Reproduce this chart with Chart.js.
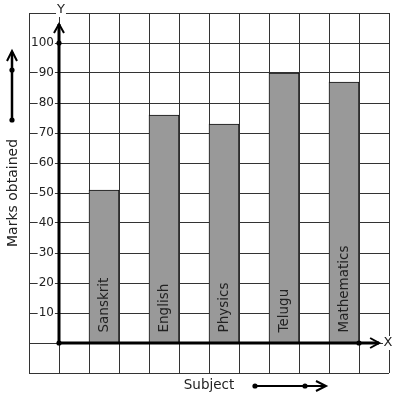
<!DOCTYPE html>
<html>
<head>
<meta charset="utf-8">
<script src="https://cdn.jsdelivr.net/npm/chart.js@4/dist/chart.umd.min.js"></script>
<style>
  html, body { margin: 0; padding: 0; background: #fff; }
  canvas { display: block; }
</style>
</head>
<body>
<canvas id="marks-chart" width="397" height="399"></canvas>
<script>
var subjects = ['Sanskrit', 'English', 'Physics', 'Telugu', 'Mathematics'];
var marks = [51, 76, 73, 90, 87];
var yTicks = [10, 20, 30, 40, 50, 60, 70, 80, 90, 100];

var FONT = "'DejaVu Sans', sans-serif";
var INK = '#222';

// bars sit in every second grid column, starting one column right of the Y axis
var points = subjects.map(function(s, i){
  return { x: 2 * i + 1.5, y: marks[i] };
});

function dot(ctx, x, y){
  ctx.beginPath();
  ctx.arc(x, y, 2.6, 0, Math.PI * 2);
  ctx.fill();
}

var decor = {
  id: 'decor',
  afterDraw: function(chart){
    var ctx = chart.ctx;
    var xs = chart.scales.x, ys = chart.scales.y;
    var x0 = xs.getPixelForValue(0), y0 = ys.getPixelForValue(0);
    ctx.save();
    ctx.strokeStyle = '#000';
    ctx.fillStyle = '#000';
    ctx.lineWidth = 3;
    ctx.lineCap = 'butt';

    // Y axis with arrow
    var yTip = ys.getPixelForValue(106.3);
    ctx.beginPath();
    ctx.moveTo(x0, y0); ctx.lineTo(x0, yTip);
    ctx.stroke();
    ctx.lineWidth = 2;
    ctx.beginPath();
    ctx.moveTo(x0 - 5, yTip + 9); ctx.lineTo(x0, yTip); ctx.lineTo(x0 + 5, yTip + 9);
    ctx.stroke();

    // X axis with arrow
    var xTip = xs.getPixelForValue(10.67);
    ctx.lineWidth = 3;
    ctx.beginPath();
    ctx.moveTo(x0, y0); ctx.lineTo(xTip, y0);
    ctx.stroke();
    ctx.lineWidth = 2;
    ctx.beginPath();
    ctx.moveTo(xTip - 9, y0 - 5); ctx.lineTo(xTip, y0); ctx.lineTo(xTip - 9, y0 + 5);
    ctx.stroke();

    dot(ctx, x0, ys.getPixelForValue(100));
    dot(ctx, x0, y0);
    dot(ctx, xs.getPixelForValue(10), y0);

    // axis letters on white
    ctx.font = '13px ' + FONT;
    ctx.textAlign = 'center';
    ctx.textBaseline = 'middle';
    var yl = ctx.measureText('Y').width;
    ctx.fillStyle = '#fff';
    ctx.fillRect(x0 + 2 - yl / 2 - 1, ys.top - 4, yl + 2, 8);
    ctx.fillRect(xs.right - 6, y0 - 7, 12, 14);
    ctx.fillStyle = INK;
    ctx.fillText('Y', x0 + 2, ys.top - 3);
    ctx.fillText('X', xs.right - 1, y0);

    // direction arrow beside "Marks obtained"
    ctx.fillStyle = '#000';
    ctx.lineWidth = 2.5;
    ctx.beginPath();
    ctx.moveTo(12, 120); ctx.lineTo(12, 52);
    ctx.stroke();
    ctx.lineWidth = 2;
    ctx.beginPath();
    ctx.moveTo(7, 61); ctx.lineTo(12, 51); ctx.lineTo(17, 61);
    ctx.stroke();
    dot(ctx, 12, 70);
    dot(ctx, 12, 120);

    // direction arrow beside "Subject"
    ctx.lineWidth = 2;
    ctx.beginPath();
    ctx.moveTo(255, 386); ctx.lineTo(325, 386);
    ctx.stroke();
    ctx.beginPath();
    ctx.moveTo(316, 381); ctx.lineTo(326, 386); ctx.lineTo(316, 391);
    ctx.stroke();
    dot(ctx, 255, 386);
    dot(ctx, 305, 386);

    // subject names written up the bars
    var meta = chart.getDatasetMeta(0);
    ctx.font = '13.5px ' + FONT;
    ctx.fillStyle = INK;
    ctx.textAlign = 'left';
    ctx.textBaseline = 'middle';
    meta.data.forEach(function(bar, i){
      ctx.save();
      ctx.translate(bar.x, bar.base - 10);
      ctx.rotate(-Math.PI / 2);
      ctx.fillText(subjects[i], 0, 0);
      ctx.restore();
    });
    ctx.restore();
  }
};

var ctx = document.getElementById('marks-chart');
var chart = new Chart(ctx, {
  type: 'bar',
  data: {
    datasets: [{
      label: 'Marks obtained',
      data: points,
      backgroundColor: '#999999',
      borderColor: '#111',
      borderWidth: 1,
      barPercentage: 1,
      categoryPercentage: 1
    }]
  },
  options: {
    responsive: false,
    devicePixelRatio: 1,
    animation: false,
    layout: { padding: { top: 13, right: 8, left: 0, bottom: 0 } },
    plugins: {
      legend: { display: false },
      tooltip: { enabled: false }
    },
    scales: {
      x: {
        type: 'linear',
        min: -1,
        max: 11,
        offset: false,
        ticks: { display: false, stepSize: 1 },
        grid: { color: '#333', lineWidth: 1, drawTicks: false, offset: false },
        border: { display: false },
        title: {
          display: true,
          text: 'Subject',
          color: INK,
          font: { family: FONT, size: 13.5 },
          padding: { top: 3.9, bottom: 5.9 }
        }
      },
      y: {
        type: 'linear',
        position: 'left',
        min: -10,
        max: 110,
        ticks: {
          stepSize: 10,
          mirror: true,
          crossAlign: 'far',
          padding: 2,
          color: INK,
          font: { family: FONT, size: 12 },
          showLabelBackdrop: function(c){ return yTicks.indexOf(c.tick.value) >= 0; },
          backdropColor: '#fff',
          backdropPadding: { left: 1, right: 1, top: 0, bottom: 0 },
          callback: function(v){ return yTicks.indexOf(v) >= 0 ? String(v) : ''; }
        },
        grid: { color: '#333', lineWidth: 1, drawTicks: false },
        border: { display: false },
        title: {
          display: true,
          text: 'Marks obtained',
          color: INK,
          font: { family: FONT, size: 14 },
          padding: { top: 4.6, bottom: 3.6 }
        }
      }
    }
  },
  plugins: [decor]
});
</script>
</body>
</html>
